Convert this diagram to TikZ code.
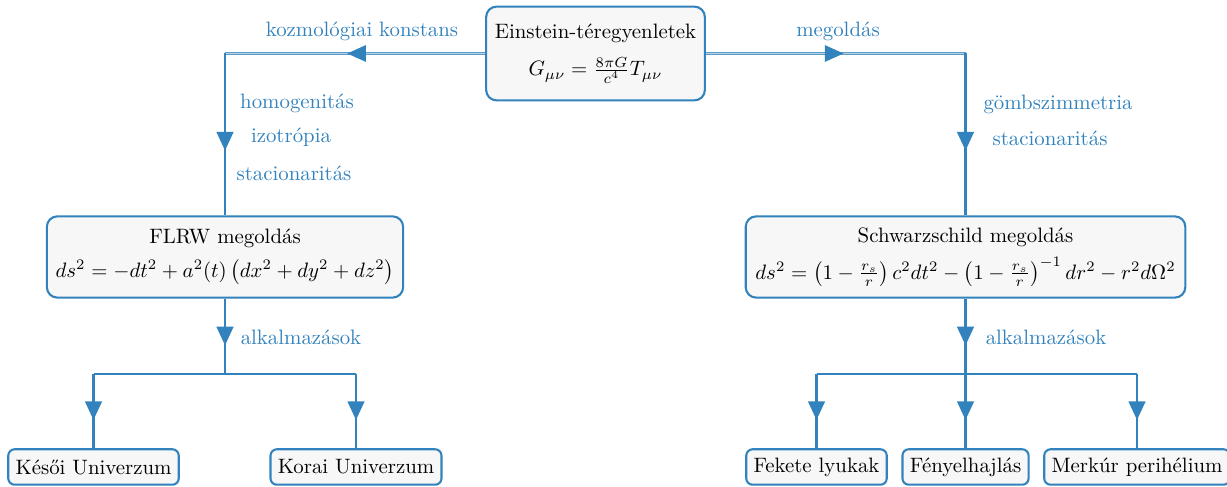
\documentclass[tikz,border=0pt]{standalone}
\usepackage{fontspec}
\usepackage{amsmath}
\usetikzlibrary{arrows.meta,decorations.markings}
\definecolor{myblue}{RGB}{49,130,189}
\definecolor{boxfill}{RGB}{247,247,247}
\tikzset{
 box/.style={draw=myblue, line width=1pt, fill=boxfill, rounded corners=5pt, align=center},
 leaf/.style={draw=myblue, line width=1pt, fill=boxfill, rounded corners=3pt, inner xsep=3.5pt, inner ysep=0pt, minimum height=17pt},
 conn/.style={draw=myblue, line width=1.2pt},
 dconn/.style={draw=myblue!80, line width=0.45pt, double=myblue!35, double distance=0.5pt},
 arrowat/.style={postaction={decorate}, decoration={markings, mark=at position #1 with {\arrow[myblue]{Triangle[width=8pt,length=9pt]}}}},
 lbl/.style={text=myblue}
}
\begin{document}
\begin{tikzpicture}[x=0.48pt,y=-0.48pt]
\useasboundingbox (0,0) rectangle (1227,487);
% main nodes
\node[box, minimum width=105pt, minimum height=45pt] (ein) at (595.5,53.5) {Einstein-téregyenletek\\[6pt] $G_{\mu\nu} = \frac{8\pi G}{c^4}T_{\mu\nu}$};
\node[box, minimum width=171pt, minimum height=39pt] (flrw) at (225,257) {FLRW megoldás\\[4pt] $ds^2 = -dt^2 + a^2(t)\left(dx^2+dy^2+dz^2\right)$};
\node[box, minimum width=211pt, minimum height=39pt] (schw) at (965.5,257) {Schwarzschild megoldás\\[4pt] $ds^2 = \left(1-\frac{r_s}{r}\right)c^2dt^2 - \left(1-\frac{r_s}{r}\right)^{-1}dr^2 - r^2 d\Omega^2$};
% leaves
\node[leaf] (late) at (93.5,467) {Késői Univerzum};
\node[leaf] (early) at (356,467) {Korai Univerzum};
\node[leaf] (bh) at (816.5,467) {Fekete lyukak};
\node[leaf] (lens) at (965.5,467) {Fényelhajlás};
\node[leaf] (merc) at (1137,467) {Merkúr perihélium};
% corners and junctions
\coordinate (cl) at (ein.west -| flrw.north);
\coordinate (cr) at (ein.east -| schw.north);
\coordinate (jl) at (225,374);
\coordinate (jr) at (965.5,374);
% top connectors
\draw[dconn] (ein.west) -- (cl);
\path[arrowat=0.53] (ein.west) -- (cl);
\draw[conn, arrowat=0.6] (cl) -- (flrw.north);
\draw[dconn] (ein.east) -- (cr);
\path[arrowat=0.53] (ein.east) -- (cr);
\draw[conn, arrowat=0.6] (cr) -- (schw.north);
% lower left
\draw[conn, arrowat=0.62] (flrw.south) -- (jl);
\draw[conn] (jl -| late.north) -- (jl -| early.north);
\draw[conn, arrowat=0.62] (jl -| late.north) -- (late.north);
\draw[conn, arrowat=0.62] (jl -| early.north) -- (early.north);
% lower right
\draw[conn, arrowat=0.62] (schw.south) -- (jr);
\draw[conn] (jr -| bh.north) -- (jr -| merc.north);
\draw[conn, arrowat=0.62] (jr -| bh.north) -- (bh.north);
\draw[conn, arrowat=0.62] (jr) -- (lens.north);
\draw[conn, arrowat=0.62] (jr -| merc.north) -- (merc.north);
% labels
\node[lbl] (lk) at (362,31) {kozmológiai konstans};
\node[lbl] (lm) at (838,31) {megoldás};
\node[lbl] (lh) at (297,103) {homogenitás};
\node[lbl] (li) at (291,137) {izotrópia};
\node[lbl] (ls1) at (294,173) {stacionaritás};
\node[lbl] (lg) at (1058,104) {gömbszimmetria};
\node[lbl] (ls2) at (1050,138) {stacionaritás};
\node[lbl] (la1) at (301,337) {alkalmazások};
\node[lbl] (la2) at (1046,337) {alkalmazások};
\end{tikzpicture}
\end{document}
